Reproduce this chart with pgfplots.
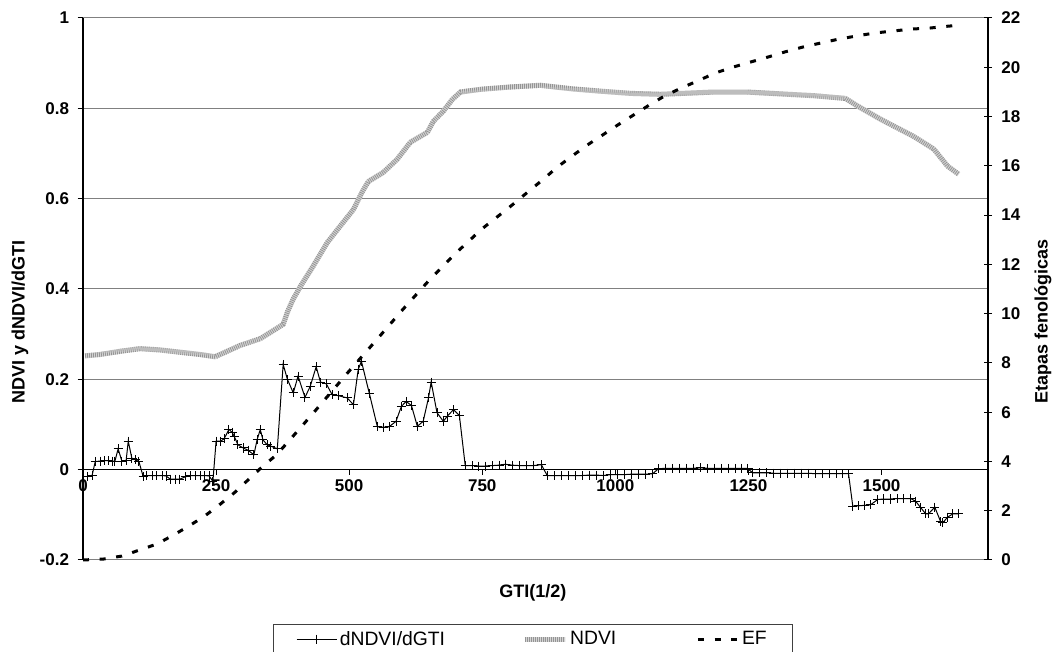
\documentclass[border=0pt]{standalone}
\usepackage{fontspec}
\setmainfont{Liberation Sans}
\usepackage{pgfplots}
\usepackage{pgfplotstable}
\pgfplotsset{compat=1.18}

% dNDVI/dGTI against GTI^(1/2)
\pgfplotstableread{
x y
8 -0.015
17 -0.013
23 0.018
32 0.019
40 0.020
47 0.020
55 0.019
60 0.019
66 0.046
73 0.019
81 0.020
85 0.063
92 0.024
98 0.022
105 0.018
113 -0.015
120 -0.013
130 -0.013
139 -0.013
149 -0.013
156 -0.014
164 -0.021
173 -0.021
182 -0.021
192 -0.016
201 -0.013
211 -0.013
220 -0.013
229 -0.013
237 -0.014
244 -0.026
250 0.063
258 0.063
265 0.068
274 0.089
280 0.083
284 0.074
291 0.055
301 0.048
310 0.043
321 0.033
327 0.066
333 0.089
338 0.066
346 0.055
353 0.052
365 0.046
376 0.233
384 0.200
395 0.170
404 0.207
417 0.160
427 0.185
438 0.228
446 0.194
457 0.190
468 0.166
479 0.164
496 0.159
508 0.144
517 0.222
523 0.240
538 0.168
553 0.095
564 0.094
575 0.095
588 0.107
598 0.140
607 0.151
617 0.142
628 0.096
639 0.107
649 0.159
654 0.194
665 0.126
677 0.107
684 0.118
696 0.133
707 0.120
718 0.009
731 0.009
743 0.008
756 0.008
769 0.009
782 0.010
793 0.012
806 0.010
820 0.009
833 0.009
846 0.009
861 0.011
872 -0.013
885 -0.013
899 -0.013
912 -0.013
925 -0.013
938 -0.013
951 -0.012
964 -0.012
977 -0.013
991 -0.011
1004 -0.011
1017 -0.011
1030 -0.010
1043 -0.010
1056 -0.010
1070 -0.009
1081 0.002
1094 0.003
1107 0.003
1120 0.003
1134 0.003
1147 0.003
1160 0.004
1173 0.003
1186 0.003
1199 0.003
1212 0.003
1226 0.003
1237 0.003
1248 0.003
1258 -0.007
1271 -0.007
1284 -0.007
1297 -0.008
1310 -0.008
1323 -0.008
1337 -0.008
1350 -0.008
1363 -0.008
1376 -0.009
1389 -0.009
1402 -0.009
1415 -0.009
1427 -0.009
1438 -0.009
1446 -0.081
1457 -0.080
1468 -0.079
1479 -0.078
1493 -0.066
1504 -0.065
1517 -0.065
1530 -0.064
1541 -0.064
1555 -0.064
1564 -0.070
1573 -0.083
1583 -0.098
1588 -0.098
1600 -0.083
1611 -0.115
1615 -0.118
1624 -0.105
1634 -0.098
1645 -0.098
}\dndvi

% NDVI
\pgfplotstableread{
x y
4 0.252
32 0.255
70 0.262
107 0.268
145 0.265
182 0.260
220 0.255
248 0.250
267 0.260
295 0.275
333 0.290
367 0.315
376 0.322
385 0.352
395 0.378
408 0.405
432 0.450
459 0.503
483 0.539
508 0.576
524 0.614
536 0.638
564 0.658
590 0.687
615 0.725
647 0.747
658 0.771
677 0.794
694 0.820
709 0.836
746 0.842
800 0.847
859 0.851
920 0.843
972 0.838
1030 0.833
1085 0.831
1184 0.836
1248 0.836
1310 0.832
1372 0.828
1432 0.822
1455 0.805
1498 0.776
1560 0.738
1598 0.710
1624 0.672
1645 0.654
}\ndvi

% Etapas fenologicas (EF)
\pgfplotstableread{
x y
0 0
39 0.04
73 0.16
107 0.41
139 0.65
169 1.00
199 1.38
229 1.79
258 2.27
286 2.76
310 3.25
336 3.77
363 4.26
385 4.79
430 5.90
500 7.67
550 8.90
600 10.15
650 11.35
700 12.45
750 13.45
800 14.30
838 14.98
865 15.46
891 15.95
919 16.40
947 16.84
976 17.25
1004 17.65
1034 18.06
1064 18.47
1092 18.83
1124 19.16
1154 19.44
1188 19.77
1220 20.00
1252 20.20
1286 20.41
1318 20.62
1352 20.82
1385 20.98
1419 21.14
1453 21.27
1487 21.39
1521 21.47
1556 21.55
1590 21.59
1626 21.67
1645 21.70
}\ef

\tikzset{
  dndvistyle/.style={black, line width=0.75pt, mark=+, mark size=3.4pt,
    mark options={line width=0.75pt, solid}},
  ndvistyle/.style={line width=3.8pt, color=black!17, mark=none,
    postaction={draw, color=black!42, line width=3.8pt, dash pattern=on 0.6pt off 0.9pt}},
  efstyle/.style={black, line width=2.25pt, mark=none, dash pattern=on 4.5pt off 8pt},
  ticklabfont/.style={font=\fontsize{12.75}{15}\selectfont\bfseries},
  titlefont/.style={font=\fontsize{13.5}{16}\selectfont\bfseries},
}

\begin{document}
\begin{tikzpicture}
\begin{axis}[
  scale only axis, width=678.75pt, height=406.5pt,
  xmin=0, xmax=1700, ymin=-0.2, ymax=1,
  axis x line*=middle, axis y line*=left,
  hide obscured x ticks=false, hide obscured y ticks=false,
  xtick={0,250,...,1500}, ytick={-0.2,0,0.2,0.4,0.6,0.8,1},
  tick align=outside, major tick length=4pt,
  ymajorgrids, grid style={black!50, line width=0.75pt},
  x axis line style={black, line width=0.75pt},
  y axis line style={black, line width=1pt},
  tick style={black, line width=0.75pt},
  /pgf/number format/assume math mode=true,
  /pgf/number format/1000 sep={},
  ticklabel style={ticklabfont},
  yticklabel style={/pgf/number format/fixed, /pgf/number format/precision=1, xshift=-3pt},
  xlabel={GTI(1/2)},
  xlabel style={titlefont, at={(axis description cs:0.497,-0.061)}, anchor=center},
  ylabel={NDVI y dNDVI/dGTI},
  ylabel style={titlefont, at={(axis description cs:-0.0696,0.44)}, anchor=center},
  clip=false,
]
\addplot[ndvistyle] table {\ndvi};
\addplot[dndvistyle] table {\dndvi};
\end{axis}

\begin{axis}[
  scale only axis, width=678.75pt, height=406.5pt,
  xmin=0, xmax=1700, ymin=0, ymax=22,
  axis y line*=right, axis x line=none,
  ytick={0,2,...,22},
  tick align=center, major tick length=6pt,
  y axis line style={black, line width=1pt},
  tick style={black, line width=0.75pt},
  /pgf/number format/assume math mode=true,
  ticklabel style={ticklabfont},
  yticklabel style={xshift=3.5pt},
  ylabel={Etapas fenológicas},
  ylabel style={titlefont, at={(axis description cs:1.0608,0.44)}, anchor=center},
  clip=false,
  legend image code/.code={\draw[mark repeat=2,mark phase=2,#1]
    plot coordinates {(0pt,0pt) (15pt,0pt) (30pt,0pt)};},
  legend columns=3,
  legend style={at={(axis description cs:0.497,-0.118)}, anchor=north,
    draw=black!75, line width=0.8pt, inner xsep=17pt, inner ysep=3pt,
    font=\fontsize{14.5}{17}\selectfont,
    /tikz/column 2/.style={column sep=56pt},
    /tikz/column 4/.style={column sep=58pt}},
]
\addlegendimage{dndvistyle}
\addlegendentry{dNDVI/dGTI}
\addlegendimage{ndvistyle}
\addlegendentry{NDVI}
\addplot[efstyle] table {\ef};
\addlegendentry{EF}
\end{axis}

\pgfresetboundingbox
\useasboundingbox (-62.25pt,-69pt) rectangle (726.75pt,420pt);
\end{tikzpicture}
\end{document}
